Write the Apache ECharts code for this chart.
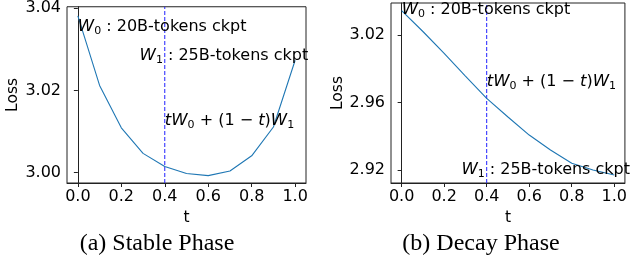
<!DOCTYPE html>
<html>
<head>
<meta charset="utf-8">
<script src="https://cdn.jsdelivr.net/npm/echarts@6/dist/echarts.min.js"></script>
<style>
	html,body{margin:0;padding:0;background:#fff;}
	#chart{width:630px;height:276px;}
</style>
</head>
<body>
<div id="chart"></div>
<script>
// 数据
var tVals = [0, 0.1, 0.2, 0.3, 0.4, 0.5, 0.6, 0.7, 0.8, 0.9, 1.0];
var stableLoss = [3.0381, 3.0212, 3.0109, 3.0047, 3.0015, 2.9998, 2.9993, 3.0004, 3.0041, 3.0111, 3.0273];
var decayLoss = [3.0380, 3.0226, 3.0064, 2.9896, 2.9731, 2.9593, 2.9459, 2.9348, 2.9250, 2.9200, 2.9163];
var xTicks = [0, 0.2, 0.4, 0.6, 0.8, 1.0];
var stableYTicks = [3.00, 3.02, 3.04];
var stableYLabels = ['3.00', '3.02', '3.04'];
var decayYTicks = [2.92, 2.97, 3.02];
var decayYLabels = ['2.92', '2.96', '3.02'];
var stableRange = [2.9975, 3.0403];
var decayRange = [2.9104, 3.0437];
var interpT = 0.4;
var captions = ['(a) Stable Phase', '(b) Decay Phase'];

var font = 'DejaVu Sans';
var rich = {
	n: {fontFamily: font, fontSize: 16, color: '#000'},
	i: {fontFamily: font, fontSize: 16.5, fontStyle: 'italic', color: '#000'},
	s: {fontFamily: font, fontSize: 11, color: '#000', padding: [9, 0, 0, 0]}
};
var w0Text = '{i|W}{s|0}{n| : 20B-tokens ckpt}';
var w1Text = '{i|W}{s|1}{n| : 25B-tokens ckpt}';
var mixText = '{i|tW}{s|0}{n| + (1 − }{i|t}{n|)}{i|W}{s|1}';

function pairs(ys){
	var arr = [];
	for (var i = 0; i < tVals.length; i++) {
		arr.push([tVals[i], ys[i]]);
	}
	return arr;
}

function note(coord, txt){
	return {
		coord: coord,
		symbolSize: 0,
		label: {show: true, position: 'right', distance: 0, formatter: txt, rich: rich}
	};
}

function xAxisCfg(idx){
	return {
		type: 'value', gridIndex: idx, min: -0.05, max: 1.05,
		name: 't', nameLocation: 'middle', nameGap: 24,
		nameTextStyle: {fontFamily: font, fontSize: 15.5, color: '#000'},
		axisLine: {show: true, lineStyle: {color: '#222', width: 1}},
		axisTick: {show: true, length: 4, customValues: xTicks, lineStyle: {color: '#222'}},
		axisLabel: {customValues: xTicks, fontFamily: font, fontSize: 16, color: '#000', margin: 6,
			formatter: function(v){ return v.toFixed(1); }},
		splitLine: {show: false}
	};
}

function yAxisCfg(idx, range, ticks, labels, gap){
	return {
		type: 'value', gridIndex: idx, min: range[0], max: range[1],
		name: 'Loss', nameLocation: 'middle', nameGap: gap, nameRotate: 90,
		nameTextStyle: {fontFamily: font, fontSize: 15.5, color: '#000'},
		axisLine: {show: true, lineStyle: {color: '#222', width: 1}},
		axisTick: {show: true, length: 4, customValues: ticks, lineStyle: {color: '#222'}},
		axisLabel: {customValues: ticks, fontFamily: font, fontSize: 16, color: '#000', margin: 6,
			formatter: function(v){
				for (var k = 0; k < ticks.length; k++) {
					if (Math.abs(ticks[k] - v) < 1e-6) return labels[k];
				}
				return '';
			}},
		splitLine: {show: false}
	};
}

function lineSeries(idx, ys, notes){
	return {
		type: 'line', xAxisIndex: idx, yAxisIndex: idx, z: 3,
		data: pairs(ys), symbol: 'none',
		lineStyle: {color: '#1f77b4', width: 1.1},
		markPoint: {data: notes}
	};
}

// 插值位置的竖虚线
function dashSeries(idx, range){
	return {
		type: 'line', xAxisIndex: idx, yAxisIndex: idx, z: 2,
		data: [[interpT, range[0]], [interpT, range[1]]], symbol: 'none',
		lineStyle: {color: '#2020ff', width: 1, type: [4, 2]}
	};
}

var chart = echarts.init(document.getElementById('chart'));
var option = {
	animation: false,
	backgroundColor: '#fff',
	title: [
		{text: captions[0], left: 152, top: 227, textAlign: 'center',
			textStyle: {fontFamily: 'Liberation Serif', fontSize: 24, fontWeight: 'normal', color: '#000'}},
		{text: captions[1], left: 476, top: 227, textAlign: 'center',
			textStyle: {fontFamily: 'Liberation Serif', fontSize: 24, fontWeight: 'normal', color: '#000'}}
	],
	grid: [
		{left: 67, top: 6, width: 239, height: 177, show: true, borderColor: '#222', borderWidth: 1},
		{left: 391, top: 3, width: 238, height: 180, show: true, borderColor: '#222', borderWidth: 1}
	],
	xAxis: [xAxisCfg(0), xAxisCfg(1)],
	yAxis: [
		yAxisCfg(0, stableRange, stableYTicks, stableYLabels, 46),
		yAxisCfg(1, decayRange, decayYTicks, decayYLabels, 42)
	],
	series: [
		dashSeries(0, stableRange),
		dashSeries(1, decayRange),
		lineSeries(0, stableLoss, [
			note([0, 3.0355], w0Text),
			note([0.284, 3.0285], w1Text),
			note([interpT, 3.0127], mixText)
		]),
		lineSeries(1, decayLoss, [
			note([0, 3.0385], w0Text),
			note([0.281, 2.92], w1Text),
			note([interpT, 2.9856], mixText)
		])
	]
};
chart.setOption(option);
</script>
</body>
</html>
